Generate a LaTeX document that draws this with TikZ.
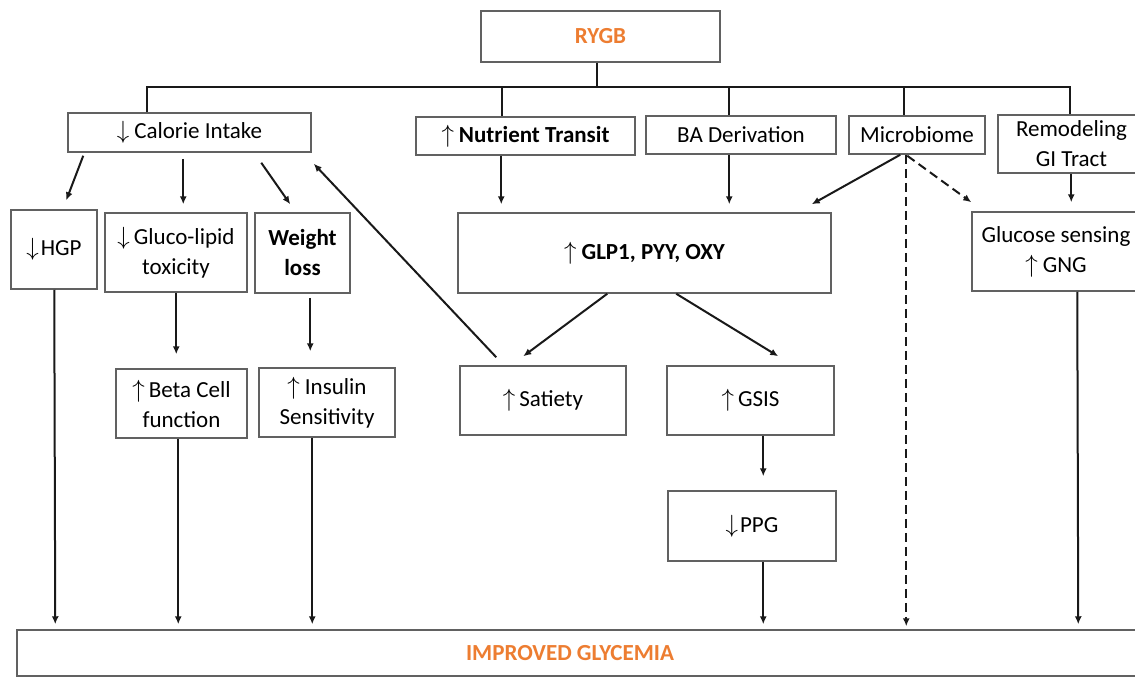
\documentclass[tikz,border=0pt]{standalone}
\usepackage{fontspec}
\setmainfont{Carlito}
\usetikzlibrary{calc,arrows.meta}
\definecolor{rorange}{HTML}{ED7D31}
\newcommand{\UP}{$\big\uparrow$}
\newcommand{\DN}{$\big\downarrow$}
\begin{document}
\begin{tikzpicture}[x=1pt,y=-1pt,
  box/.style={draw=black!62,line width=1.5pt,inner sep=0pt,align=center,
    font=\fontsize{23}{30}\selectfont},
  conn/.style={line width=2pt,draw=black!90},
  arr/.style={conn,-{Latex[length=8pt,width=7pt]}},
  dsh/.style={arr,dash pattern=on 9pt off 5pt}]
\clip (0,0) rectangle (1135,677);
\fill[white] (0,0) rectangle (1135,677);
% boxes
\node[box,minimum width=239pt,minimum height=51pt] (rygb) at (600.5,36.5) {\textcolor{rorange}{\bfseries RYGB}};
\node[box,minimum width=243pt,minimum height=39pt] (cal) at (189.5,132.5) {\DN\kern5pt Calorie Intake};
\node[box,minimum width=219pt,minimum height=38pt] (nut) at (525.5,136) {\UP\kern5pt\bfseries Nutrient Transit};
\node[box,minimum width=190pt,minimum height=38pt] (ba) at (741,135) {BA Derivation};
\node[box,minimum width=136pt,minimum height=38pt] (mic) at (917,135) {Microbiome};
\node[box,minimum width=147pt,minimum height=58pt] (rem) at (1071.5,144) {Remodeling\\GI Tract};
\node[box,minimum width=86pt,minimum height=79pt] (hgp) at (54,249.5) {\DN\kern2pt HGP};
\node[box,minimum width=142pt,minimum height=79pt] (glu) at (176,252.5) {\DN\kern4pt Gluco-lipid\\toxicity};
\node[box,minimum width=95pt,minimum height=80pt] (wl) at (302.5,253) {\bfseries Weight\\\bfseries loss};
\node[box,minimum width=373pt,minimum height=80pt] (glp) at (644.5,253) {\UP\kern5pt\bfseries GLP1, PYY, OXY};
\node[box,minimum width=168pt,minimum height=79pt] (gs) at (1056,251.5) {Glucose sensing\\\UP\kern5pt GNG};
\node[box,minimum width=131pt,minimum height=69pt] (beta) at (181.5,403.5) {\UP\kern4pt Beta Cell\\function};
\node[box,minimum width=136pt,minimum height=69pt] (ins) at (327,402.5) {\UP\kern5pt Insulin\\Sensitivity};
\node[box,minimum width=166pt,minimum height=69pt] (sat) at (543,400.5) {\UP\kern4pt Satiety};
\node[box,minimum width=167pt,minimum height=69pt] (gsis) at (750.5,400.5) {\UP\kern4pt GSIS};
\node[box,minimum width=168pt,minimum height=70pt] (ppg) at (752,526) {\DN\kern2pt PPG};
\node[box,minimum width=1133pt,minimum height=46pt] (imp) at (583.5,653) {\hspace*{-27pt}\textcolor{rorange}{\bfseries IMPROVED GLYCEMIA}};
% bus
\coordinate (bR) at (597,87);
\coordinate (bL) at (147,87);
\coordinate (bE) at (1070,87);
\coordinate (bN) at (502,87);
\coordinate (bB) at (729,87);
\coordinate (bM) at (904,87);
\draw[conn] ($(rygb.south)+(-3.5,0)$) -- (bR);
\draw[conn] (bL |- cal.north) -- (bL) -- (bE) -- (bE |- rem.north);
\draw[conn] (bN) -- (bN |- nut.north);
\draw[conn] (bB) -- (bB |- ba.north);
\draw[conn] (bM) -- (bM |- mic.north);
% arrows
\draw[arr] ($(cal.south west)+(16,3)$) -- ($(hgp.north west)+(56,-9)$);
\draw[arr] ($(cal.south west)+(116,6)$) -- ($(glu.north west)+(79,-8)$);
\draw[arr] ($(cal.south west)+(194,10)$) -- ($(wl.north west)+(36,-8)$);
\draw[arr] ($(sat.north west)+(37,-8)$) -- ($(cal.south east)+(2,11)$);
\draw[arr] ($(nut.south west)+(86,0)$) -- ($(glp.north west)+(44,-8)$);
\draw[arr] ($(ba.south west)+(84,0)$) -- ($(glp.north west)+(272,-8)$);
\draw[arr] ($(mic.south west)+(52,0)$) -- ($(glp.north east)+(-20,-8)$);
\draw[dsh] ($(mic.south west)+(58,0)$) -- ($(imp.north west)+(890,-3)$);
\draw[dsh] ($(mic.south west)+(59,1)$) -- ($(gs.north west)+(0,-9)$);
\draw[arr] ($(rem.south west)+(74,0)$) -- ($(gs.north west)+(100,-9)$);
\draw[arr] ($(gs.south west)+(106,0)$) -- ($(imp.north west)+(1062,-5)$);
\draw[arr] ($(glu.south west)+(72,0)$) -- ($(beta.north west)+(61,-14)$);
\draw[arr] ($(wl.south west)+(56,4)$) -- ($(ins.north west)+(52,-16)$);
\draw[arr] ($(glp.south west)+(150,0)$) -- ($(sat.north west)+(64,-9)$);
\draw[arr] ($(glp.south west)+(219,0)$) -- ($(gsis.north west)+(112,-9)$);
\draw[arr] ($(gsis.south west)+(97,0)$) -- ($(ppg.north west)+(96,-14)$);
\draw[arr] ($(ppg.south west)+(96,0)$) -- ($(imp.north west)+(747,-5)$);
\draw[arr] ($(hgp.south west)+(44,0)$) -- ($(imp.north west)+(39,-5)$);
\draw[arr] ($(beta.south west)+(63,0)$) -- ($(imp.north west)+(162,-5)$);
\draw[arr] ($(ins.south west)+(54,0)$) -- ($(imp.north west)+(296,-5)$);
\end{tikzpicture}
\end{document}
